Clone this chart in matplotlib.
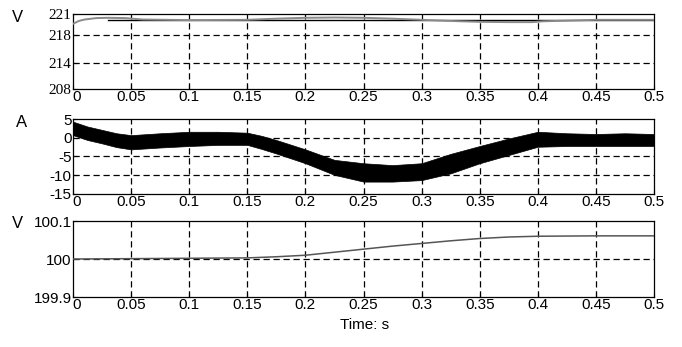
import matplotlib
matplotlib.use("Agg")
import matplotlib.pyplot as plt
from matplotlib.transforms import ScaledTranslation

# ---- data ----
t_v = [0.0, 0.005, 0.01, 0.02, 0.03, 0.045, 0.06, 0.1, 0.15, 0.175, 0.2, 0.225,
       0.25, 0.275, 0.3, 0.325, 0.35, 0.375, 0.395, 0.405, 0.425, 0.45, 0.475, 0.5]
volt = [219.3, 219.8, 220.05, 220.3, 220.35, 220.3, 220.05, 219.95, 220.0, 220.2,
        220.35, 220.4, 220.35, 220.2, 220.0, 219.8, 219.65, 219.6, 219.6, 219.75,
        219.85, 220.0, 220.0, 220.0]
v_ref = 220.0

t_i = [0.0, 0.0125, 0.025, 0.0375, 0.05, 0.075, 0.1, 0.125, 0.15, 0.1625, 0.175,
       0.2, 0.225, 0.25, 0.275, 0.3, 0.325, 0.35, 0.375, 0.4, 0.425, 0.45, 0.475, 0.5]
i_top = [4.3, 3.0, 2.1, 1.2, 0.7, 1.2, 1.6, 1.6, 1.35, 0.5, -0.6, -3.1, -5.9, -6.8,
         -7.3, -6.8, -4.3, -2.2, -0.2, 1.6, 1.2, 1.0, 1.2, 1.0]
i_bot = [0.7, -0.6, -1.5, -2.5, -3.1, -2.6, -2.2, -1.9, -1.9, -3.0, -4.2, -6.8,
         -9.9, -11.7, -11.7, -11.3, -9.5, -6.8, -4.6, -2.4, -2.2, -2.2, -2.2, -2.2]

t_dc = [0.0, 0.05, 0.1, 0.15, 0.175, 0.2, 0.225, 0.25, 0.275, 0.3, 0.325, 0.35,
        0.375, 0.4, 0.45, 0.5]
vdc = [100.0, 100.001, 100.002, 100.003, 100.006, 100.01, 100.018, 100.026, 100.034,
       100.041, 100.048, 100.054, 100.058, 100.06, 100.061, 100.061]

xticks = [0, 0.05, 0.1, 0.15, 0.2, 0.25, 0.3, 0.35, 0.4, 0.45, 0.5]
xlabels = ["0", "0.05", "0.1", "0.15", "0.2", "0.25", "0.3", "0.35", "0.4", "0.45", "0.5"]
top_ticks = [208, 212.5, 217.4, 221]
top_labels = ["208", "214", "218", "221"]
mid_ticks = [-15, -10, -5, 0, 5]
mid_labels = ["-15", "-10", "-5", "0", "5"]
bot_ticks = [99.9, 100.0, 100.1]
bot_labels = ["199.9", "100", "100.1"]

plt.rcParams['font.family'] = ['Liberation Sans', 'DejaVu Sans']
dash = (0, (5, 3))
fs = 11

fig = plt.figure(figsize=(6.82, 3.47), dpi=100)
ax1 = fig.add_axes([0.107, 0.7435, 0.852, 0.216])
ax2 = fig.add_axes([0.107, 0.441, 0.852, 0.216])
ax3 = fig.add_axes([0.107, 0.144, 0.852, 0.219])


def style(ax, yt, yl, ylim, grid_y, serif=False):
    ax.set_xlim(0, 0.5)
    ax.set_ylim(*ylim)
    ax.set_xticks(xticks)
    ax.set_xticklabels(xlabels, fontsize=fs)
    ax.set_yticks(yt)
    if serif:
        ax.set_yticklabels(yl, fontsize=fs, family='Liberation Serif')
    else:
        ax.set_yticklabels(yl, fontsize=fs)
    ax.tick_params(direction='in', length=3, width=0.8, pad=1.0, colors='black')
    # nudge the "0" label right so it clears the lowest y label
    lab0 = ax.get_xticklabels()[0]
    lab0.set_transform(lab0.get_transform() + ScaledTranslation(4 / 100, 0, fig.dpi_scale_trans))
    for x in xticks[1:-1]:
        ax.axvline(x, color='black', lw=0.9, ls=dash, zorder=1)
    for y in grid_y:
        ax.axhline(y, color='black', lw=0.9, ls=dash, zorder=1)
    for s in ax.spines.values():
        s.set_linewidth(0.9)


style(ax1, top_ticks, top_labels, (208, 221), top_ticks[1:3], serif=True)
ax1.axhline(v_ref, xmin=0.06, color='black', lw=1.0, zorder=2)
ax1.plot(t_v, volt, color='#8a8a8a', lw=1.4, zorder=3)

style(ax2, mid_ticks, mid_labels, (-15, 5), [-10, -5, 0])
ax2.fill_between(t_i, i_bot, i_top, color='black', lw=0.5, zorder=3)

style(ax3, bot_ticks, bot_labels, (99.9, 100.1), [100.0])
ax3.plot(t_dc, vdc, color='#555555', lw=1.1, zorder=3)

fig.text(0.018, 0.95, "V", fontsize=12, va='center')
fig.text(0.024, 0.648, "A", fontsize=12, va='center')
fig.text(0.018, 0.357, "V", fontsize=12, va='center')
fig.text(0.535, 0.063, "Time: s", fontsize=fs, ha='center', va='center')

fig.savefig("out.png", dpi=100)
